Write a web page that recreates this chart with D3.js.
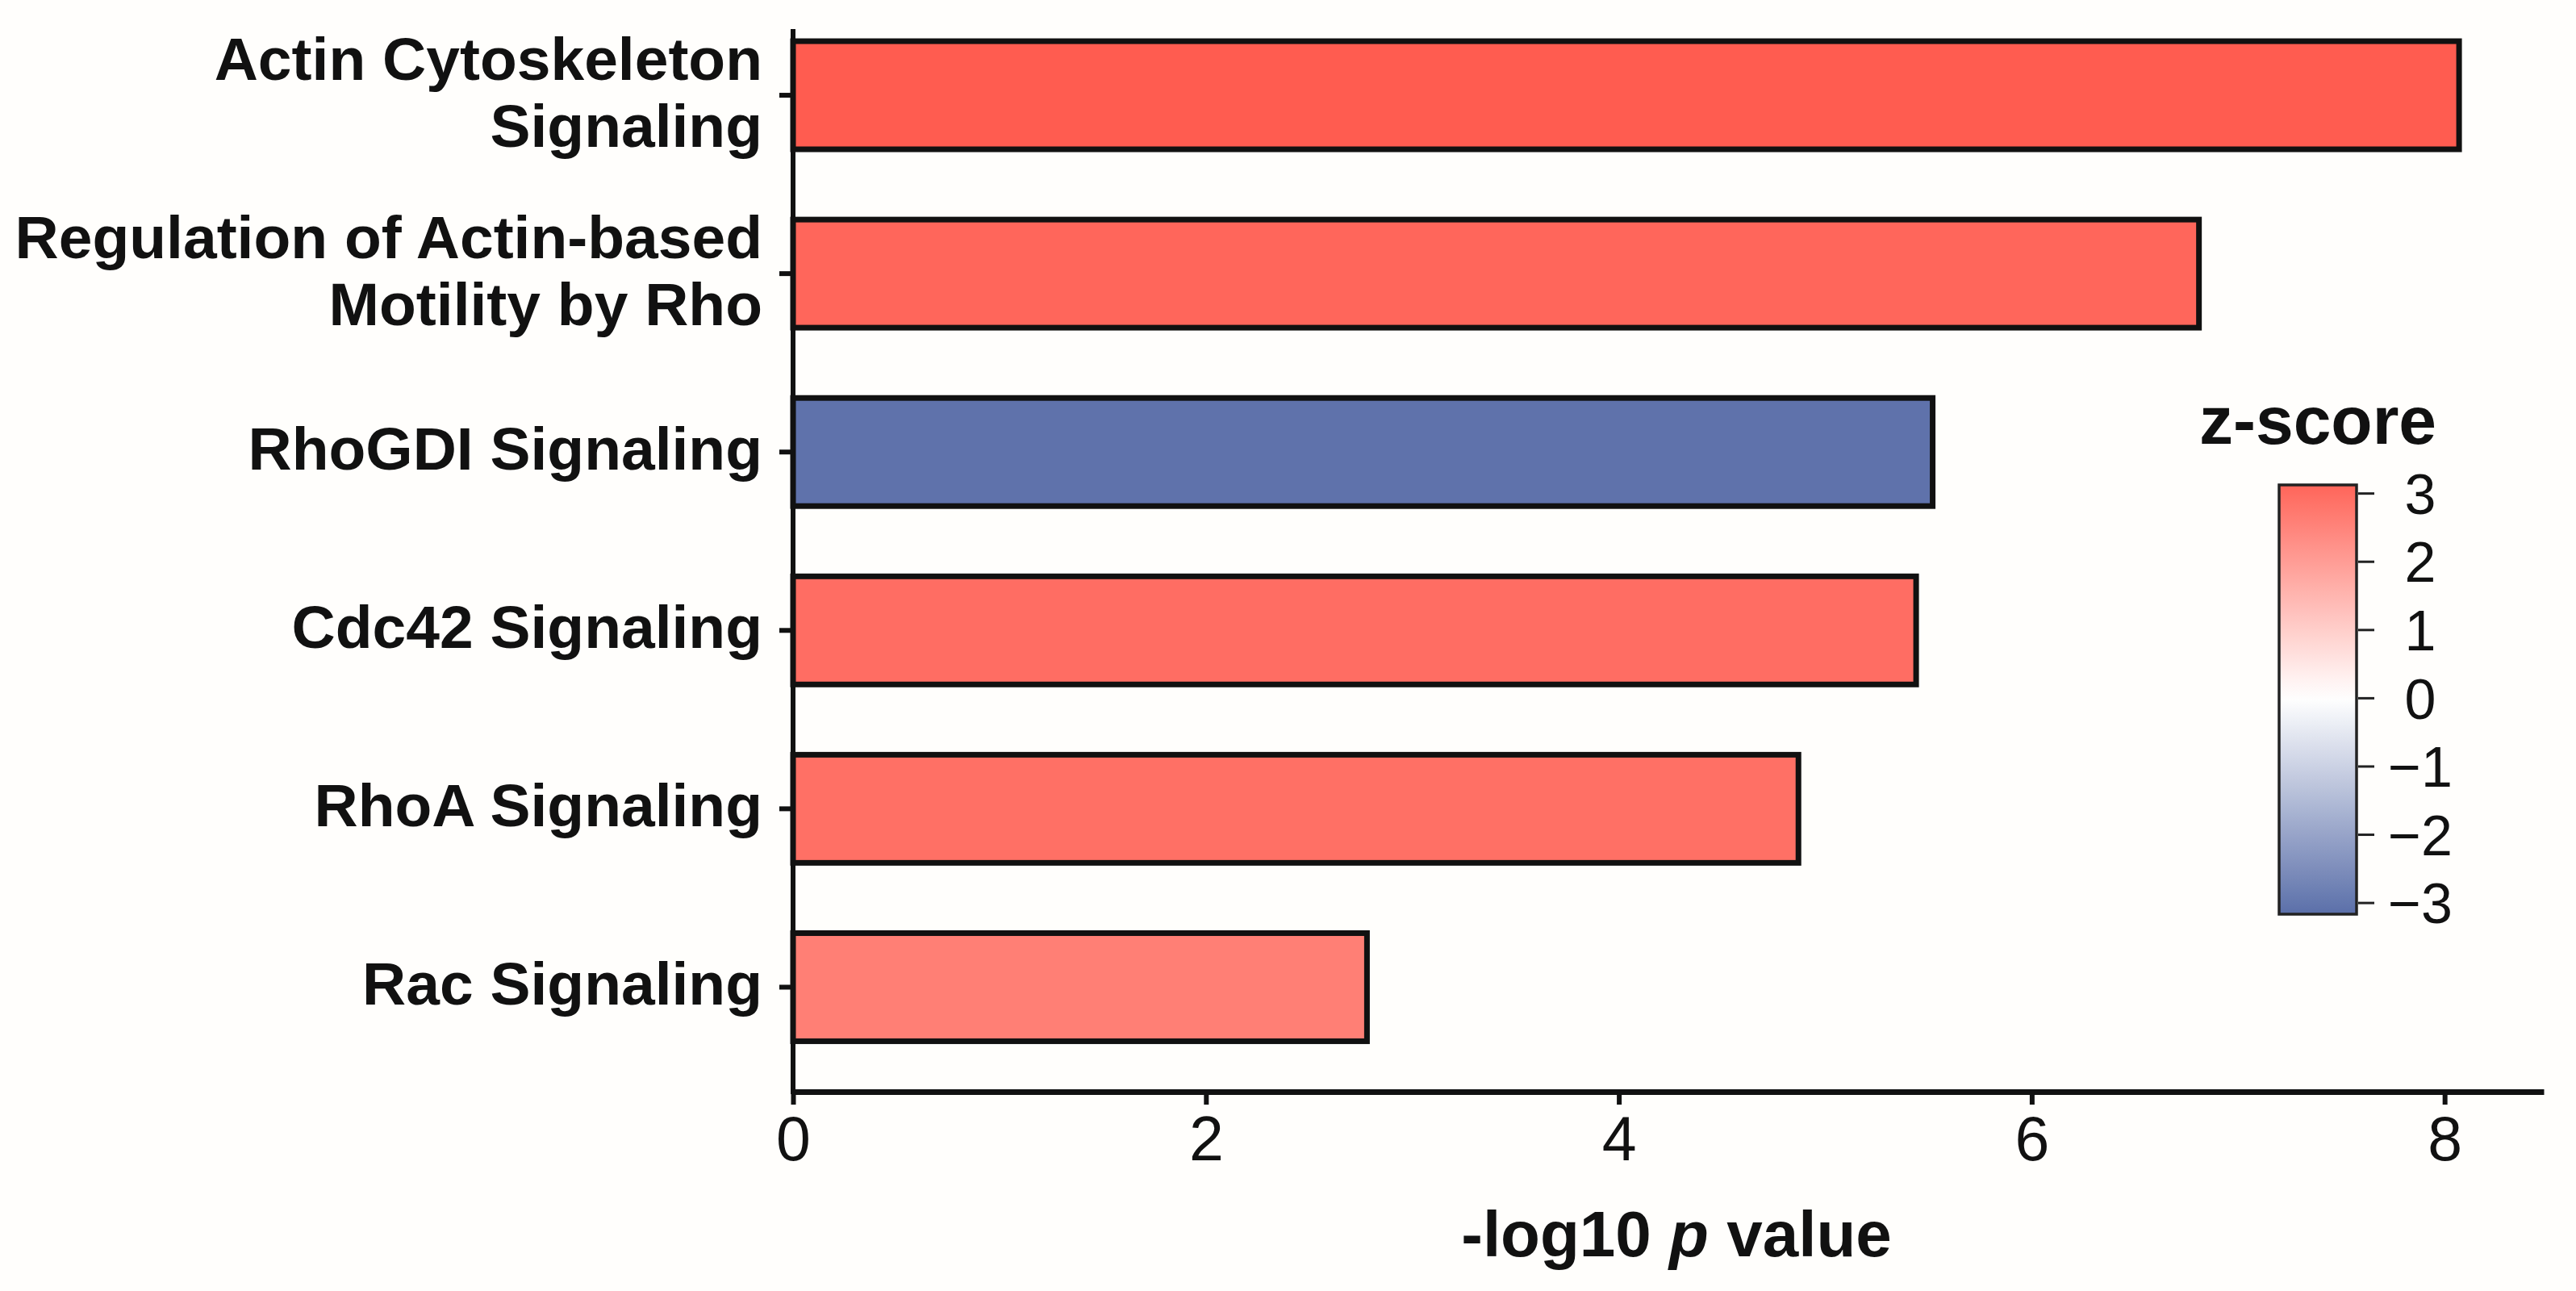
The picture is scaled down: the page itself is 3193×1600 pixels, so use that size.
<!DOCTYPE html>
<html>
<head>
<meta charset="utf-8">
<script src="https://cdn.jsdelivr.net/npm/d3@7"></script>
<style>
  body { margin: 0; background: #fffefc; }
  svg { display: block; }
  text { font-family: "Liberation Sans", Arial, sans-serif; fill: #111; }
</style>
</head>
<body>
<div id="chart"></div>
<script>
// pathway names (line breaks as in the figure)
const categories = [
  'Actin Cytoskeleton\nSignaling',
  'Regulation of Actin-based\nMotility by Rho',
  'RhoGDI Signaling',
  'Cdc42 Signaling',
  'RhoA Signaling',
  'Rac Signaling'
];
// -log10 p values
const pValues = [8.07, 6.81, 5.52, 5.44, 4.87, 2.78];
// activation z-scores (bar colour)
const zScores = [3.3, 3.1, -3.1, 2.95, 2.9, 2.6];
const xTicks = [0, 2, 4, 6, 8];
const zTicks = [3, 2, 1, 0, -1, -2, -3];

const width = 3193, height = 1600;
const svg = d3.select('#chart').append('svg')
  .attr('width', width)
  .attr('height', height);

svg.append('rect').attr('width', width).attr('height', height).attr('fill', '#fffefc');

// scales
const x = d3.scaleLinear().domain([0, 8.48]).range([983, 3153]);
const y = d3.scaleBand().domain(categories).range([7.5, 1334])
  .paddingInner(0.394).paddingOuter(0.197);
const color = d3.scaleLinear().domain([-3, 0, 3])
  .range(['#6477ae', '#ffffff', '#ff6b60']);

const data = categories.map((c, i) => ({ name: c, p: pValues[i], z: zScores[i] }));

// y axis
const yAxis = svg.append('g')
  .attr('transform', `translate(${x(0)},0)`)
  .call(d3.axisLeft(y).tickSize(17).tickSizeOuter(0).tickPadding(21));
yAxis.select('.domain').remove();
yAxis.selectAll('.tick line').attr('stroke', '#111').attr('stroke-width', 6);
yAxis.selectAll('.tick text').each(function (d) {
  const t = d3.select(this);
  const lines = d.split('\n');
  t.text(null)
    .attr('font-size', 75)
    .attr('font-weight', 'bold')
    .attr('dy', null);
  const off = (lines.length - 1) * 41.5;
  lines.forEach((l, i) => {
    t.append('tspan')
      .attr('x', -38)
      .attr('dy', i === 0 ? (22 - off) + 'px' : '83px')
      .text(l);
  });
});
svg.append('line')
  .attr('x1', x(0)).attr('x2', x(0))
  .attr('y1', 36).attr('y2', 1356)
  .attr('stroke', '#111').attr('stroke-width', 6);

// x axis
const xAxis = svg.append('g')
  .attr('transform', 'translate(0,1353)')
  .call(d3.axisBottom(x).tickValues(xTicks).tickSize(16).tickSizeOuter(0).tickPadding(14));
xAxis.select('.domain').attr('stroke', '#111').attr('stroke-width', 7);
xAxis.selectAll('.tick line').attr('stroke', '#111').attr('stroke-width', 6);
xAxis.selectAll('.tick text').attr('font-size', 77).attr('dy', '0.71em');

// bars
svg.append('g').selectAll('rect')
  .data(data)
  .join('rect')
  .attr('x', x(0))
  .attr('y', d => y(d.name))
  .attr('width', d => x(d.p) - x(0))
  .attr('height', y.bandwidth())
  .attr('fill', d => color(d.z))
  .attr('stroke', '#111')
  .attr('stroke-width', 7);

// x axis title
const xt = svg.append('text')
  .attr('x', 2078).attr('y', 1557)
  .attr('text-anchor', 'middle')
  .attr('font-size', 80)
  .attr('font-weight', 'bold');
xt.append('tspan').text('-log10 ');
xt.append('tspan').attr('font-style', 'italic').text('p');
xt.append('tspan').text(' value');

// colour legend
const zLegend = d3.scaleLinear().domain([3.12, -3.17]).range([601, 1133]);
const defs = svg.append('defs');
const grad = defs.append('linearGradient')
  .attr('id', 'zgrad')
  .attr('x1', 0).attr('y1', 0).attr('x2', 0).attr('y2', 1);
d3.range(0, 1.0001, 0.05).forEach(t => {
  const z = zLegend.domain()[0] + t * (zLegend.domain()[1] - zLegend.domain()[0]);
  grad.append('stop').attr('offset', t).attr('stop-color', color(z));
});
svg.append('rect')
  .attr('x', 2825).attr('y', zLegend(3.12))
  .attr('width', 96).attr('height', zLegend(-3.17) - zLegend(3.12))
  .attr('fill', 'url(#zgrad)')
  .attr('stroke', '#222')
  .attr('stroke-width', 3.5);
const zAxis = svg.append('g')
  .attr('transform', 'translate(2923,0)')
  .call(d3.axisRight(zLegend).tickValues(zTicks).tickFormat(d3.format('d'))
    .tickSize(20).tickSizeOuter(0));
zAxis.select('.domain').remove();
zAxis.selectAll('.tick line').attr('stroke', '#222').attr('stroke-width', 3);
zAxis.selectAll('.tick text')
  .attr('x', 77)
  .attr('text-anchor', 'middle')
  .attr('font-size', 70)
  .attr('dy', '0.36em');
svg.append('text')
  .attr('x', 2873).attr('y', 550)
  .attr('text-anchor', 'middle')
  .attr('font-size', 84)
  .attr('font-weight', 'bold')
  .text('z-score');
</script>
</body>
</html>
